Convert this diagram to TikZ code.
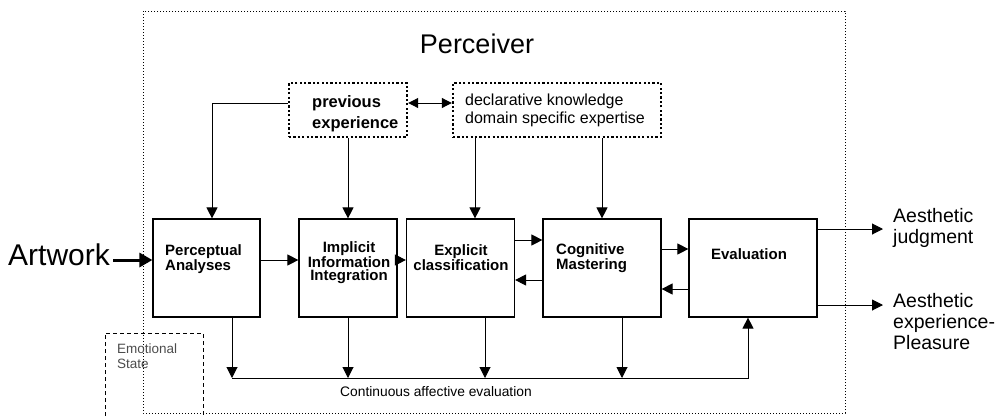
\documentclass[tikz,border=0pt]{standalone}
\usepackage{fontspec}
\setmainfont{Liberation Sans}
\usetikzlibrary{arrows.meta}

\begin{document}
\begin{tikzpicture}[x=1pt, y=-1pt,
        stage/.style={draw, line width=1.2pt, minimum height=98pt, inner sep=0pt},
        stagetxt/.style={inner sep=0pt, font={\fontsize{15}{13.5}\selectfont\bfseries}},
        store/.style={draw, line width=2.4pt, dash pattern=on 2.2pt off 2.2pt, minimum height=54pt, inner sep=0pt},
        arr/.style={-{Triangle[length=11pt,width=11pt]}, line width=1pt},
        outtxt/.style={inner sep=0pt, align=left, font={\fontsize{19.5}{21}\selectfont}},
    ]
        \useasboundingbox (0,0) rectangle (999,416);

        % perceiver frame
        \draw[line width=1pt, dotted] (143,11) rectangle (845,413);
        \node[font={\fontsize{27}{27}\selectfont}, inner sep=0pt, anchor=base] (perc) at (477,53) {Perceiver};

        % emotional state
        \draw[line width=0.9pt, dash pattern=on 4pt off 3pt] (105,416) |- (203,333) -- (203,416);
        \node[inner sep=0pt, anchor=north west, align=left, text=black!70,
            font={\fontsize{13.5}{15}\selectfont}] (emo) at (117,343.5) {Emotional\\State};

        % memory stores
        \node[store, minimum width=118pt] (pe) at (348,110) {};
        \node[store, minimum width=208pt] (dk) at (557,110) {};
        \node[inner sep=0pt, anchor=north west, align=left,
            font={\fontsize{16.5}{21}\selectfont\bfseries}] (pe-txt) at (312,95) {previous\\experience};
        \node[inner sep=0pt, anchor=north west, align=left,
            font={\fontsize{16}{18}\selectfont}] (dk-txt) at (465,93.5) {declarative knowledge\\domain specific expertise};

        % processing stages
        \node[stage, minimum width=107pt] (pa) at (206.5,268) {};
        \node[stage, minimum width=98pt] (ii) at (348,268) {};
        \node[stage, minimum width=108pt] (ec) at (460.5,268) {};
        \node[stage, minimum width=118pt] (cm) at (602,268) {};
        \node[stage, minimum width=128pt] (ev) at (753,268) {};

        \node[stagetxt, anchor=north west, align=left] (pa-txt) at (165,244) {Perceptual\\Analyses};
        \node[stagetxt, anchor=north, align=center] (ii-txt) at (349,241) {Implicit\\Information\\Integration};
        \node[stagetxt, anchor=north, align=center] (ec-txt) at (461,244) {Explicit\\classification};
        \node[stagetxt, anchor=north west, align=left] (cm-txt) at (556,243) {Cognitive\\Mastering};
        \node[stagetxt, anchor=base] (ev-txt) at (749,259) {Evaluation};

        % input and outputs
        \node[font={\fontsize{30}{30}\selectfont}, inner sep=0pt, anchor=base west] (art) at (8,265) {Artwork};
        \node[outtxt, anchor=north west] (aj) at (893,208) {Aesthetic\\judgment};
        \node[outtxt, anchor=north west] (ae) at (893,293) {Aesthetic\\experience-\\Pleasure};
        \coordinate (aj-tip) at (883,229);
        \coordinate (ae-tip) at (883,305);
        \coordinate (pa-in) at ([yshift=8pt]pa.west);

        \draw[-{Triangle[length=13pt,width=14pt]}, line width=3pt] (art.east |- pa-in) ++(3,0) -- (pa-in);
        \draw[arr] ([yshift=39pt]ev.east) -- (aj-tip);
        \draw[arr] ([yshift=-37pt]ev.east) -- (ae-tip);

        % top-down influences
        \draw[arr] ([yshift=7pt]pe.west) -| ([xshift=5.5pt]pa.north);
        \draw[arr] (pe.south) -- (ii.north);
        \draw[{Triangle[length=10pt,width=10pt]}-{Triangle[length=10pt,width=10pt]}, line width=1pt]
            ([yshift=7pt]pe.east) -- ([yshift=7pt]dk.west);
        \coordinate (ec-in) at ([xshift=14.5pt]ec.north);
        \draw[arr] (dk.south -| ec-in) -- (ec-in);
        \draw[arr] (dk.south -| cm.north) -- (cm.north);

        % stage to stage
        \draw[arr] ([yshift=8pt]pa.east) -- ([yshift=8pt]ii.west);
        \draw[arr] ([yshift=8pt]ii.east) -- ([yshift=8pt]ec.west);
        \draw[arr] ([yshift=28pt]ec.east) -- ([yshift=28pt]cm.west);
        \draw[arr] ([yshift=-12pt]cm.west) -- ([yshift=-12pt]ec.east);
        \draw[arr] ([yshift=19pt]cm.east) -- ([yshift=19pt]ev.west);
        \draw[arr] ([yshift=-21pt]ev.west) -- ([yshift=-21pt]cm.east);

        % continuous affective evaluation
        \coordinate (aff-l) at (232,378);
        \coordinate (pa-out) at ([xshift=25.5pt]pa.south);
        \coordinate (ec-out) at ([xshift=24.5pt]ec.south);
        \coordinate (cm-out) at ([xshift=20pt]cm.south);
        \draw[arr] (pa-out) -- (pa-out |- aff-l);
        \draw[arr] (ii.south) -- (ii.south |- aff-l);
        \draw[arr] (ec-out) -- (ec-out |- aff-l);
        \draw[arr] (cm-out) -- (cm-out |- aff-l);
        \draw[arr] (aff-l) -| ([xshift=-5pt]ev.south);
        \node[inner sep=0pt, anchor=base west, font={\fontsize{13.8}{13.8}\selectfont}] (aff) at (340,396) {Continuous affective evaluation};
    \end{tikzpicture}
\end{document}
